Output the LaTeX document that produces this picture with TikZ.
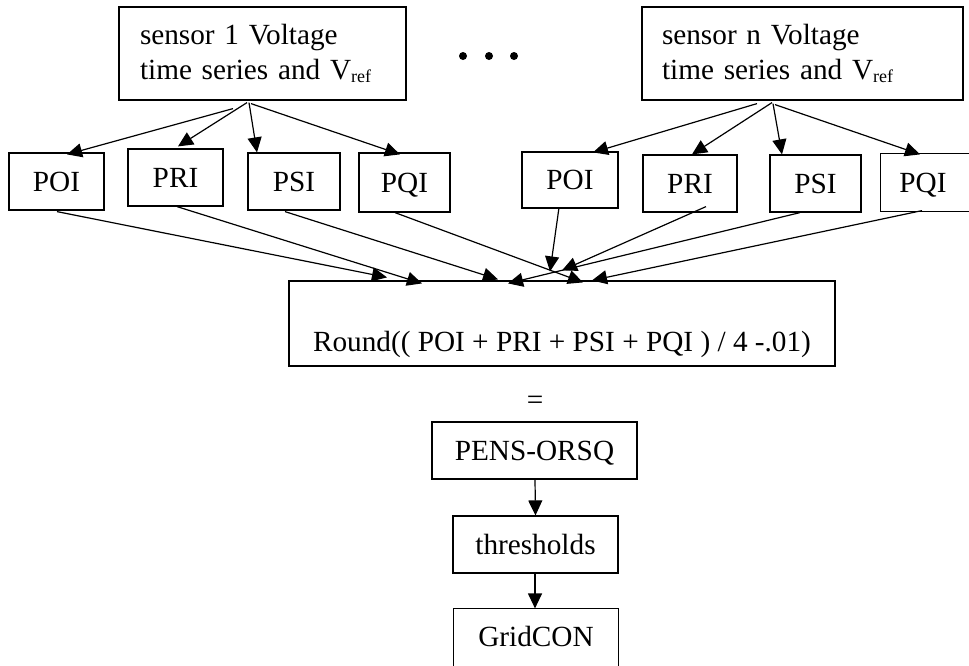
\documentclass[tikz,border=0pt]{standalone}
\usepackage{fontspec}
\setmainfont{Liberation Serif}
\usetikzlibrary{arrows.meta}
\newcommand\myvref{V{\fontsize{18}{18}\selectfont\raisebox{-3pt}{ref}}}
\begin{document}
\begin{tikzpicture}[x=1pt,y=-1pt,
  font=\fontsize{29.25}{35}\selectfont,
  box/.style={draw, line width=1.2pt, inner sep=0pt, text height=19.5pt, text depth=0pt},
  sbox/.style={draw, line width=1.2pt, inner ysep=0pt, minimum height=93pt, align=left},
  arr/.style={line width=1.2pt, -{Triangle[length=15pt,width=14pt]}}]
\useasboundingbox (0,0) rectangle (969,665);
\clip (0,0) rectangle (969,665);
% sensor boxes
\node[sbox, inner xsep=21pt, text width=245pt] (s1) at (262.5,53.5) {sensor 1 Voltage\\time series and \myvref};
\node[sbox, inner xsep=20pt, text width=281pt] (sn) at (802.5,53.5) {sensor n Voltage\\time series and \myvref};
% dots
\fill (463,56) circle[radius=4pt];
\fill (489,56) circle[radius=4pt];
\fill (514,56) circle[radius=4pt];
% row 1
\node[box, minimum width=95pt, minimum height=57pt] (poi1) at (56.5,181.5) {POI};
\node[box, minimum width=95pt, minimum height=57pt] (pri1) at (175.5,177.5) {PRI};
\node[box, minimum width=92pt, minimum height=57pt] (psi1) at (294,181.5) {PSI};
\node[box, minimum width=91pt, minimum height=59pt] (pqi1) at (404.5,182.5) {PQI};
% row 2
\node[box, minimum width=96pt, minimum height=56pt] (poi2) at (570,180) {POI};
\node[box, minimum width=94pt, minimum height=57pt] (pri2) at (690,183.5) {PRI};
\node[box, minimum width=91pt, minimum height=57pt] (psi2) at (815.5,183.5) {PSI};
\node[box, draw=none, minimum width=84pt, minimum height=57pt] (pqi2) at (923,182.5) {PQI};
\draw[line width=1.2pt] ([xshift=40pt]pqi2.north east) -- (pqi2.north west) -- (pqi2.south west) -- ([xshift=40pt]pqi2.south east);
% average box
\node[draw, line width=1.2pt, inner sep=0pt, text height=70pt, text depth=15pt, minimum width=546pt] (avg) at (562,323.5) {Round(( POI + PRI + PSI + PQI ) / 4 -.01)};
\node (eq) at (535,403) {=};
\node[box, minimum width=205pt, minimum height=57pt] (pens) at (534.5,450.5) {PENS-ORSQ};
\node[box, minimum width=165pt, minimum height=57pt] (thr) at (535.5,544.5) {thresholds};
\node[box, draw=none, minimum width=164pt, minimum height=56pt] (grid) at (536,637) {GridCON};
\draw[line width=1.2pt] ([yshift=-20pt]grid.south west) -- (grid.north west) -- (grid.north east) -- ([yshift=-20pt]grid.south east);
% arrows from sensor 1
\draw[arr] ([shift={(-29.5,8)}]s1.south) -- ([shift={(10.5,2)}]poi1.north);
\draw[arr] ([shift={(-15.5,2)}]s1.south) -- ([shift={(2.5,-2)}]pri1.north);
\draw[arr] ([shift={(-13.5,2)}]s1.south) -- ([shift={(-37,0)}]psi1.north);
\draw[arr] ([shift={(-11.5,3)}]s1.south) -- ([shift={(-4.5,2)}]pqi1.north);
% arrows from sensor n
\draw[arr] ([shift={(-45.5,3)}]sn.south) -- ([shift={(23,1)}]poi2.north);
\draw[arr] ([shift={(-30.5,2)}]sn.south) -- ([shift={(2,0)}]pri2.north);
\draw[arr] ([shift={(-29.5,3)}]sn.south) -- ([shift={(-33.5,0)}]psi2.north);
\draw[arr] ([shift={(-27.5,4)}]sn.south) -- ([shift={(-3,1)}]pqi2.north);
% row 1 to avg
\draw[arr] ([shift={(0.5,1)}]poi1.south) -- ([shift={(-175,-3)}]avg.north);
\draw[arr] ([shift={(1.5,0)}]pri1.south) -- ([shift={(-140,3)}]avg.north);
\draw[arr] ([shift={(-9,1)}]psi1.south) -- ([shift={(-64,-1)}]avg.north);
\draw[arr] ([shift={(-9.5,0)}]pqi1.south) -- ([shift={(21,2)}]avg.north);
% row 2 to avg
\draw[arr] ([shift={(-11,-1)}]poi2.south) -- ([shift={(-12,-9)}]avg.north);
\draw[arr] ([shift={(16,-6)}]pri2.south) -- ([shift={(0,-10)}]avg.north);
\draw[arr] ([shift={(-15.5,0)}]psi2.south) -- ([shift={(-54,3)}]avg.north);
\draw[arr] ([shift={(-1,-1)}]pqi2.south) -- ([shift={(30,0)}]avg.north);
% chain
\draw[arr] ([xshift=0.5pt]pens.south) -- (thr.north);
\draw[arr] ([xshift=-0.5pt]thr.south) -- ([xshift=-1pt]grid.north);
\end{tikzpicture}
\end{document}
